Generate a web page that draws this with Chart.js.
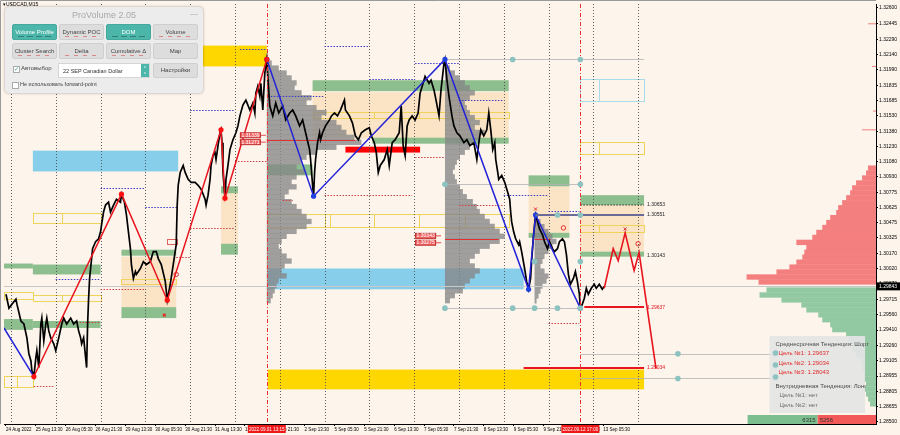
<!DOCTYPE html>
<html><head><meta charset="utf-8">
<script src="https://cdn.jsdelivr.net/npm/chart.js@4.4.1/dist/chart.umd.min.js"></script>
<style>
html,body{margin:0;padding:0;background:#FDF4EC;}
#wrap{position:relative;width:900px;height:435px;overflow:hidden;font-family:'Liberation Sans',Arial,sans-serif;}
canvas{display:block;}
#sym{position:absolute;left:3px;top:1px;font-size:5px;color:#000;}
#pv{position:absolute;left:5px;top:7px;width:198px;height:86px;background:#ececec;border-radius:4px;box-shadow:0 0 3px rgba(0,0,0,.35);color:#444;}
.ttl{position:absolute;left:0;right:0;top:3px;text-align:center;font-size:9px;color:#a9a9a9;}
.min{position:absolute;right:5px;top:2px;font-size:8px;color:#aaa;}
.btn{position:absolute;width:45px;height:16px;box-sizing:border-box;border-radius:2px;font-size:6px;line-height:14px;text-align:center;background:#dddddd;border:1px solid #cfcfcf;color:#444;white-space:nowrap;}
.btn.on{background:#4db6aa;border-color:#45a89c;color:#fff;}
.ind{position:absolute;left:5px;right:5px;bottom:2px;height:1px;background:repeating-linear-gradient(90deg,#d88 0 4px,transparent 4px 9px);}
.on .ind{background:repeating-linear-gradient(90deg,#2f7f76 0 6px,transparent 6px 9px);}
.chk{position:absolute;width:5px;height:5px;background:#fff;border:1px solid #aaa;font-size:6px;line-height:5px;color:#2aa198;text-align:center;}
.lbl{position:absolute;font-size:5.5px;color:#444;white-space:nowrap;}
.sel{position:absolute;width:92px;height:15px;box-sizing:border-box;background:#fff;border:1px solid #d6d6d6;font-size:5.5px;line-height:14px;padding-left:4px;color:#333;}
.spin{position:absolute;right:0;top:0;width:8px;height:13px;background:#4db6aa;color:#fff;font-size:4px;line-height:6px;text-align:center;}
</style></head><body>
<div id="wrap">
<canvas id="c" width="900" height="435"></canvas>
<div id="sym">▾USDCAD,M15</div>
<div id="pv">
  <div class="ttl">ProVolume 2.05</div>
  <div class="min">—</div>
  <div class="btn on" style="left:7px;top:17px">Volume Profile<i class="ind"></i></div>
  <div class="btn" style="left:54px;top:17px">Dynamic POC<i class="ind"></i></div>
  <div class="btn on" style="left:101px;top:17px">DOM<i class="ind"></i></div>
  <div class="btn" style="left:148px;top:17px">Volume<i class="ind"></i></div>
  <div class="btn" style="left:7px;top:36px">Cluster Search<i class="ind"></i></div>
  <div class="btn" style="left:54px;top:36px">Delta<i class="ind"></i></div>
  <div class="btn" style="left:101px;top:36px">Cumulative Δ<i class="ind"></i></div>
  <div class="btn" style="left:148px;top:36px">Map</div>
  <div class="chk" style="left:8px;top:59px">✓</div><div class="lbl" style="left:16px;top:58px;font-size:6px">Автовыбор</div>
  <div class="sel" style="left:53px;top:56px">22 SEP Canadian Dollar<div class="spin">˄<br>˅</div></div>
  <div class="btn" style="left:148px;top:56px;height:15px;line-height:13px">Настройки</div>
  <div class="chk" style="left:7px;top:75px"></div><div class="lbl" style="left:15px;top:74px">Не использовать forward-point</div>
</div>
</div>
<script>
// ---------------- data ----------------
const priceTicks = [1.32600,1.32445,1.32290,1.32140,1.31990,1.31835,1.31685,1.31530,1.31380,1.31230,1.31080,1.30930,1.30775,1.30625,1.30475,1.30325,1.30170,1.30020,1.29870,1.29715,1.29560,1.29410,1.29260,1.29105,1.28955,1.28805,1.28655,1.28500];
const xTickPos = [0,30,60,90,120,150,180,210,240,270,300,330,360,390,420,450,480,510,540,570,600];
const xTickLabels = ['24 Aug 2022','25 Aug 13:30','26 Aug 05:30','26 Aug 21:30','29 Aug 13:30','30 Aug 05:30','30 Aug 21:30','31 Aug 13:30','1 Sep 05:30','1 Sep 21:30','2 Sep 13:30','5 Sep 05:30','5 Sep 21:30','6 Sep 13:30','7 Sep 05:30','7 Sep 21:30','8 Sep 13:30','9 Sep 05:30','9 Sep 21:30','12 Sep 13:30','13 Sep 05:30'];
const dayBreaks = [5,50,95,140,185,230,275,320,365,410,455,500,545,590,635];
const sessionMarks = [[262,'2022.09.01 13:15'],[577,'2022.09.12 17:00']];
const lastPrice = 1.29843;

const closeSeries = [[0,1.29765],[3,1.29627],[6,1.29667],[10,1.29716],[11,1.29667],[15,1.29500],[18,1.29470],[21,1.29333],[23,1.29176],[25,1.29107],[26,1.29009],[28,1.28950],[30,1.29137],[31,1.29206],[33,1.29039],[35,1.29470],[36,1.29529],[38,1.29304],[40,1.29470],[41,1.29529],[43,1.29402],[45,1.29333],[48,1.29274],[50,1.29206],[53,1.29333],[56,1.29470],[58,1.29529],[61,1.29470],[65,1.29529],[68,1.29470],[71,1.29500],[73,1.29402],[75,1.29333],[76,1.29274],[78,1.29333],[80,1.29137],[81,1.29039],[82,1.29470],[83,1.29726],[84,1.29922],[85,1.30020],[87,1.30216],[90,1.30285],[93,1.30314],[95,1.30383],[96,1.30451],[98,1.30579],[100,1.30648],[103,1.30677],[105,1.30579],[108,1.30648],[111,1.30706],[115,1.30677],[116,1.30756],[119,1.30677],[121,1.30550],[123,1.30383],[125,1.30216],[126,1.30059],[128,1.29922],[130,1.29990],[131,1.29961],[135,1.30020],[138,1.30088],[141,1.30059],[145,1.30088],[148,1.30187],[151,1.30187],[153,1.30118],[156,1.30059],[160,1.29892],[162,1.29706],[165,1.29863],[168,1.30059],[171,1.30255],[172,1.30648],[173,1.30844],[175,1.30971],[178,1.31040],[180,1.30971],[183,1.30903],[186,1.30873],[190,1.30873],[193,1.30844],[196,1.30805],[200,1.30706],[201,1.30648],[203,1.30746],[205,1.30903],[206,1.31040],[208,1.31138],[210,1.31168],[211,1.31099],[213,1.31236],[215,1.31364],[216,1.31393],[217,1.31266],[218,1.30971],[220,1.30716],[221,1.30903],[223,1.31040],[225,1.31197],[228,1.31295],[231,1.31364],[233,1.31432],[235,1.31531],[238,1.31638],[241,1.31687],[245,1.31589],[248,1.31658],[250,1.31560],[251,1.31756],[253,1.31825],[255,1.31727],[256,1.31854],[258,1.31589],[260,1.31952],[262,1.32090],[263,1.31923],[265,1.31629],[268,1.31531],[271,1.31658],[274,1.31560],[278,1.31629],[281,1.31491],[285,1.31560],[288,1.31589],[291,1.31531],[295,1.31432],[298,1.31491],[301,1.31364],[305,1.31197],[306,1.31099],[308,1.30844],[309,1.30736],[310,1.30971],[311,1.31099],[313,1.31266],[315,1.31364],[316,1.31295],[318,1.31364],[321,1.31432],[325,1.31491],[327,1.31531],[330,1.31560],[333,1.31531],[336,1.31589],[340,1.31687],[341,1.31589],[345,1.31531],[348,1.31462],[351,1.31334],[354,1.31295],[357,1.31364],[361,1.31393],[365,1.31413],[367,1.31334],[370,1.31266],[372,1.31168],[374,1.30971],[376,1.31040],[380,1.31099],[383,1.31197],[385,1.31040],[388,1.31266],[391,1.31295],[395,1.31364],[397,1.31629],[399,1.31236],[401,1.31138],[403,1.31432],[405,1.31491],[408,1.31531],[411,1.31491],[414,1.31560],[416,1.31756],[419,1.31854],[421,1.31923],[425,1.31854],[427,1.31884],[430,1.31786],[432,1.31687],[435,1.31531],[437,1.31786],[440,1.32050],[441,1.32090],[443,1.31884],[445,1.31727],[448,1.31531],[450,1.31432],[453,1.31364],[456,1.31334],[460,1.31266],[463,1.31295],[466,1.31236],[470,1.31266],[473,1.31099],[475,1.31266],[477,1.31393],[480,1.31334],[483,1.31393],[485,1.31560],[487,1.31393],[489,1.31197],[491,1.31266],[492,1.31099],[494,1.30971],[495,1.30903],[498,1.30942],[501,1.30873],[504,1.30775],[506,1.30706],[507,1.30579],[508,1.30481],[510,1.30383],[512,1.30314],[515,1.30255],[516,1.30285],[518,1.30187],[521,1.30020],[523,1.29892],[525,1.29814],[527,1.29922],[528,1.30088],[530,1.30353],[532,1.30550],[534,1.30481],[536,1.30412],[539,1.30353],[541,1.30285],[544,1.30216],[546,1.30285],[549,1.30216],[551,1.30187],[554,1.30216],[556,1.30285],[559,1.30314],[561,1.30285],[563,1.30157],[565,1.29961],[567,1.29863],[570,1.29922],[572,1.29990],[574,1.29892],[576,1.29765],[577,1.29627],[579,1.29667],[581,1.29726],[583,1.29824],[585,1.29765],[588,1.29824],[591,1.29863],[593,1.29824],[596,1.29863],[599,1.29814],[601,1.29843]];

const redSwings = [[28,1.28950],[116,1.30756],[162,1.29706],[216,1.31393],[220,1.30716],[262,1.32090]];
const blueSwingsEarly = [[-2,1.29431],[28,1.28950]];
const blueSwings = [[262,1.32090],[309,1.30736],[441,1.32090],[525,1.29814],[532,1.30550],[577,1.29627]];
const forecastPath = [[601,1.29824],[610,1.30216],[615,1.30098],[622,1.30373],[631,1.30000],[636,1.30177],[653,1.29029]];

// zones: [fromBar, toBar, upperPrice, lowerPrice]
const goldZones = [[143,262,1.32227,1.32021],[263,641,1.29019,1.28823]];
const blueZones = [[27,173,1.31187,1.30981],[263,520,1.30020,1.29814]];
const rangeZones = [[116,171,1.30137,1.29637],[216,233,1.30775,1.30265],[308,505,1.31766,1.31305],[525,566,1.30834,1.30373],[577,641,1.30648,1.30187]];
const greenZones = [[-2,27,1.30069,1.30020],[27,95,1.30059,1.29961],[-2,27,1.29519,1.29412],[27,95,1.29500,1.29431],[116,171,1.30206,1.30147],[116,171,1.29637,1.29529],[216,233,1.30834,1.30765],[216,233,1.30265,1.30157],[308,505,1.31884,1.31776],[368,505,1.31315,1.31256],[263,308,1.31050,1.30942],[525,566,1.30942,1.30834],[525,566,1.30373,1.30324],[577,641,1.30746,1.30648],[577,641,1.30187,1.30137]];
const redZones = [[341,416,1.31226,1.31168]];
// outlined boxes: [fromBar, toBar, upper, lower, dividers]
const yellowBoxes = [[27,95,1.30569,1.30471,[56]],[-2,27,1.29784,1.29716,[]],[27,95,1.29755,1.29696,[56]],[-2,27,1.28960,1.28843,[11]],[116,171,1.29912,1.29863,[]],[263,505,1.30559,1.30432,[320,325,370,415,461]],[308,505,1.31570,1.31511,[370,415]],[577,641,1.30451,1.30383,[596]],[577,641,1.31275,1.31158,[596]]];
const cyanBoxes = [[577,641,1.31893,1.31678,[596]]];
const redSmallBoxes = [[162,172,1.30314,1.30265]];

// levels: [fromBar, toBar, price]
const targetLines = [[581,641,1.29637],[520,641,1.29034]];
const entryLines = [[532,641,1.30551]];
const stopDotted = [[577,641,1.30653]];
const pocLines = [[262,351,1.31295],[441,495,1.30314],[531,547,1.30314]];
const blueDotted = [[95,140,1.30814],[50,95,1.29912],[140,173,1.30628],[185,230,1.31589],[235,263,1.32198],[263,320,1.31727],[320,365,1.32227],[365,411,1.31893],[411,455,1.32050],[455,500,1.31687],[500,545,1.30746],[545,576,1.30589]];
const redDotted = [[28,48,1.28852],[95,140,1.29814],[71,95,1.29490],[171,185,1.30137],[185,230,1.30422],[230,263,1.31089],[278,288,1.30697],[320,408,1.30746],[411,441,1.31128],[455,500,1.30648],[545,576,1.29480]];
const pointLines = [[441,641,1.32090],[441,577,1.29627],[441,577,1.30854],[577,773,1.29176],[577,773,1.28931]];
const pointDots = [[509,1.32090],[577,1.32090],[441,1.29627],[509,1.29627],[531,1.29627],[554,1.29627],[577,1.29627],[441,1.30854],[577,1.30854],[531,1.30088],[577,1.30088],[554,1.30550],[577,1.30550],[675,1.29176],[773,1.29176],[675,1.28931],[773,1.28931],[773,1.29058]];
const levelLabelsDark = [[641,1.30653,'1.30653'],[641,1.30551,'1.30551'],[641,1.30143,'1.30143']];
const levelLabelsRed = [[643,1.29637,'1.29637'],[643,1.29034,'1.29034']];
const boxedLabels = [[235,1.31339,'1.31339'],[235,1.31271,'1.31271'],[411,1.30343,'1.30343'],[411,1.30275,'1.30275']];
const crossMarks = [[622,1.30412],[532,1.30609]];
const ringMarks = [[171,1.29961],[560,1.30422],[635,1.30265]];
const squareMarks = [[159,1.29558]];

// volume profiles: anchor bar, top price, volumes per bin (top to bottom)
const binStep = 0.00049;
const profile1 = {anchor:262, top:1.32080, vols:[5,12,20,25,30,28,35,45,40,50,60,55,70,75,80,88,95,70,50,40,35,30,38,30,25,30,22,18,25,30,35,40,45,40,30,20,15,12,15,20,25,18,15,20,12,10,8,6,4]};
const profile2 = {anchor:441, top:1.32031, vols:[5,10,15,20,25,30,25,20,22,25,30,35,30,40,35,30,25,20,15,12,10,8,10,12,15,18,22,28,32,35,40,45,50,55,60,55,45,35,30,25,30,35,30,25,20,18,10,5]};
const profile3 = {anchor:531, top:1.30559, vols:[3,6,10,14,18,22,18,14,10,8,6,10,14,12,8,6,4,2]};
// order book depth (right side)
const askTop = 1.31040;
const askVols = [8,10,14,20,24,26,30,34,38,40,46,50,54,60,64,80,70,72,74,80,87,100,130,118];
const bidTop = 1.29833;
const bidVols = [110,117,95,75,70,58,54,46,44,30,27,26,24,20,16,14,14,12,12,10,12,10,8,6];
const askTicks = [[1.32443,8],[1.32021,4],[1.31579,3],[1.31393,14]];
const bidTotal = 6315, askTotal = 5256;

const infoLines = [
  ['Среднесрочная Тенденция: Шорт','head'],
  ['Цель №1: 1.29637','red'],
  ['Цель №2: 1.29034','red'],
  ['Цель №3: 1.28043','red'],
  ['Внутридневная Тенденция: Лонг','head'],
  ['Цель №1: нет','grey'],
  ['Цель №2: нет','grey']
];

// ---------------- drawing ----------------
const BG = '#FDF4EC';
Chart.defaults.font.family = "'Liberation Sans', Arial, sans-serif";
const pts = a => a.map(([x,y]) => ({x, y}));

const mt4Plugin = {
  id: 'mt4',
  beforeDraw(chart) {
    const c = chart.ctx; c.save(); c.fillStyle = BG; c.fillRect(0,0,chart.width,chart.height); c.restore();
  },
  beforeDatasetsDraw(chart) {
    const c = chart.ctx, a = chart.chartArea, xs = chart.scales.x, ys = chart.scales.y;
    const X = v => xs.getPixelForValue(v), Y = v => ys.getPixelForValue(v);
    c.save();
    c.beginPath(); c.rect(a.left, a.top, a.right - a.left, a.bottom - a.top); c.clip();
    const box = (z, fill) => { c.fillStyle = fill; c.fillRect(X(z[0]), Y(z[2]), X(z[1]) - X(z[0]), Y(z[3]) - Y(z[2])); };
    rangeZones.forEach(z => box(z, '#FBE4C6'));
    goldZones.forEach(z => box(z, '#FFD700'));
    blueZones.forEach(z => box(z, '#87CEEB'));
    greenZones.forEach(z => box(z, '#8DBE8D'));
    redZones.forEach(z => box(z, '#FF0000'));
    const obox = (z, col) => {
      c.strokeStyle = col; c.lineWidth = 1; c.setLineDash([]);
      const x0 = Math.round(X(z[0])) + .5, x1 = Math.round(X(z[1])) + .5, y0 = Math.round(Y(z[2])) + .5, y1 = Math.round(Y(z[3])) + .5;
      c.strokeRect(x0, y0, x1 - x0, y1 - y0);
      (z[4] || []).forEach(d => { const xd = Math.round(X(d)) + .5; c.beginPath(); c.moveTo(xd, y0); c.lineTo(xd, y1); c.stroke(); });
    };
    yellowBoxes.forEach(z => obox(z, '#F0D35A'));
    cyanBoxes.forEach(z => obox(z, '#A9DCEB'));
    redSmallBoxes.forEach(z => obox(z, '#E06060'));
    // daily separators
    c.strokeStyle = 'rgba(70,70,70,0.85)'; c.lineWidth = 1; c.setLineDash([1,2]);
    dayBreaks.forEach(d => { const x = Math.round(X(d)) + .5; c.beginPath(); c.moveTo(x, a.top); c.lineTo(x, a.bottom); c.stroke(); });
    c.setLineDash([]);
    // volume profiles
    const prof = (p) => {
      c.fillStyle = 'rgba(135,135,135,0.78)';
      p.vols.forEach((v, k) => {
        const y0 = Y(p.top - k * binStep), y1 = Y(p.top - (k + 1) * binStep);
        c.fillRect(X(p.anchor), y0, X(p.anchor + v) - X(p.anchor), y1 - y0 + 0.4);
      });
    };
    [profile1, profile2, profile3].forEach(prof);
    // order book depth on the right
    const right = xs.max;
    c.fillStyle = '#F47F7F';
    askVols.forEach((v, k) => { const y0 = Y(askTop - k * binStep), y1 = Y(askTop - (k + 1) * binStep); c.fillRect(X(right - v), y0, X(right) - X(right - v), y1 - y0 + 0.4); });
    askTicks.forEach(([p, v]) => { c.fillRect(X(right - v), Y(p) - 0.5, X(right) - X(right - v), 1); });
    c.fillStyle = '#93C9A2';
    bidVols.forEach((v, k) => { const y0 = Y(bidTop - k * binStep), y1 = Y(bidTop - (k + 1) * binStep); c.fillRect(X(right - v), y0, X(right) - X(right - v), y1 - y0 + 0.4); });
    // last price line
    c.strokeStyle = '#C8C8C8'; c.lineWidth = 1;
    const yl = Math.round(Y(lastPrice)) + .5; c.beginPath(); c.moveTo(a.left, yl); c.lineTo(a.right, yl); c.stroke();
    // horizontal levels
    const hl = (arr, col, w, dash) => {
      c.strokeStyle = col; c.lineWidth = w; c.setLineDash(dash);
      arr.forEach(([i0, i1, p]) => { const y = Math.round(Y(p)) + (w % 2 ? .5 : 0); c.beginPath(); c.moveTo(X(i0), y); c.lineTo(X(i1), y); c.stroke(); });
      c.setLineDash([]);
    };
    hl(pointLines, 'rgba(180,180,180,0.8)', 1, []);
    hl(blueDotted, '#3B3BC8', 1, [1.5,1.5]);
    hl(redDotted, '#D04040', 1, [1.5,1.5]);
    hl(pocLines, '#E03030', 1, []);
    c.restore();
  },
  afterDatasetsDraw(chart) {
    const c = chart.ctx, a = chart.chartArea, xs = chart.scales.x, ys = chart.scales.y;
    const X = v => xs.getPixelForValue(v), Y = v => ys.getPixelForValue(v);
    c.save();
    c.beginPath(); c.rect(a.left, a.top, a.right - a.left, a.bottom - a.top); c.clip();
    const hl = (arr, col, w, dash) => {
      c.strokeStyle = col; c.lineWidth = w; c.setLineDash(dash);
      arr.forEach(([i0, i1, p]) => { const y = Math.round(Y(p)); c.beginPath(); c.moveTo(X(i0), y); c.lineTo(X(i1), y); c.stroke(); });
      c.setLineDash([]);
    };
    hl(targetLines, '#E8141E', 2, []);
    hl(entryLines, '#6B6B9A', 2, []);
    hl(stopDotted, '#333', 1, [1.5,1.5]);
    // session marks (vertical red dash-dot)
    c.strokeStyle = '#F03030'; c.lineWidth = 1; c.setLineDash([4,2,1,2]);
    sessionMarks.forEach(([i]) => { const x = Math.round(X(i)) + .5; c.beginPath(); c.moveTo(x, a.top); c.lineTo(x, a.bottom); c.stroke(); });
    c.setLineDash([]);
    // forward point dots
    c.fillStyle = '#8CC3C0';
    pointDots.forEach(([i, p]) => { c.beginPath(); c.arc(X(i), Y(p), 2.8, 0, Math.PI * 2); c.fill(); });
    // marks
    c.strokeStyle = '#E03030'; c.fillStyle = '#E03030'; c.lineWidth = 1;
    crossMarks.forEach(([i, p]) => { const x = X(i), y = Y(p); c.beginPath(); c.moveTo(x - 1.5, y - 1.5); c.lineTo(x + 1.5, y + 1.5); c.moveTo(x + 1.5, y - 1.5); c.lineTo(x - 1.5, y + 1.5); c.stroke(); });
    ringMarks.forEach(([i, p]) => { c.beginPath(); c.arc(X(i), Y(p), 2.2, 0, Math.PI * 2); c.stroke(); });
    squareMarks.forEach(([i, p]) => { c.fillRect(X(i) - 1.5, Y(p) - 1.5, 3, 3); });
    // level labels
    c.font = "5px 'Liberation Sans'"; c.textBaseline = 'middle'; c.textAlign = 'left';
    c.fillStyle = '#222'; levelLabelsDark.forEach(([i, p, t]) => c.fillText(t, X(i) + 3, Y(p)));
    c.fillStyle = '#E8141E'; levelLabelsRed.forEach(([i, p, t]) => c.fillText(t, X(i) + 1, Y(p)));
    boxedLabels.forEach(([i, p, t]) => {
      const x = X(i), y = Y(p);
      c.fillStyle = '#F26A6A'; c.fillRect(x, y - 2.5, 21, 5);
      c.strokeStyle = '#C03030'; c.strokeRect(x + .5, y - 2.5, 20, 5);
      c.fillStyle = '#fff'; c.fillText(t, x + 1.5, y + .2);
      c.strokeStyle = '#E05050'; c.beginPath(); c.moveTo(x + 21, y); c.lineTo(x + 26, y); c.stroke();
    });
    // info panel
    const ix0 = X(767), ix1 = X(863), iy0 = 336, iy1 = 413;
    c.fillStyle = 'rgba(228,228,228,0.93)'; c.fillRect(ix0, iy0, ix1 - ix0, iy1 - iy0);
    c.font = "6px 'Liberation Sans'";
    const rowY = [344, 353, 363, 372, 386, 395, 405];
    infoLines.forEach(([t, kind], k) => {
      c.fillStyle = kind === 'red' ? '#E02A2A' : kind === 'head' ? '#4a4a4a' : '#6e6e6e';
      c.fillText(t, ix0 + (kind === 'head' ? 6 : kind === 'red' ? 9 : 10), rowY[k]);
    });
    c.fillStyle = '#8CC3C0';
    [[353],[365],[377]].forEach(([yy]) => { c.beginPath(); c.arc(ix0 + 6, yy, 2.8, 0, Math.PI * 2); c.fill(); });
    // bid / ask totals bar
    const bx0 = X(745), bx1 = X(xs.max), by0 = 415, by1 = a.bottom;
    const split = bx0 + (bx1 - bx0) * bidTotal / (bidTotal + askTotal);
    c.fillStyle = '#7DBE8E'; c.fillRect(bx0, by0, split - bx0, by1 - by0);
    c.fillStyle = '#F25A5A'; c.fillRect(split, by0, bx1 - split, by1 - by0);
    c.fillStyle = '#333'; c.font = "6px 'Liberation Sans'";
    c.textAlign = 'right'; c.fillText(String(bidTotal), split - 2, (by0 + by1) / 2 + .5);
    c.textAlign = 'left'; c.fillText(String(askTotal), split + 2, (by0 + by1) / 2 + .5);
    c.restore();
  },
  afterDraw(chart) {
    const c = chart.ctx, a = chart.chartArea, xs = chart.scales.x, ys = chart.scales.y;
    const X = v => xs.getPixelForValue(v), Y = v => ys.getPixelForValue(v);
    c.save();
    // window border
    c.strokeStyle = '#9a9a9a'; c.lineWidth = 1;
    c.beginPath(); c.moveTo(0.5, a.bottom); c.lineTo(0.5, 0.5); c.lineTo(a.right, 0.5); c.stroke();
    // session time boxes
    c.font = "4.6px 'Liberation Sans'"; c.textBaseline = 'middle'; c.textAlign = 'center';
    sessionMarks.forEach(([i, t]) => {
      const x = X(i);
      c.fillStyle = '#F01818'; c.fillRect(x - 19, a.bottom + 1, 38, 8);
      c.fillStyle = '#fff'; c.fillText(t, x, a.bottom + 5.3);
    });
    // last price box
    const y = Y(lastPrice);
    c.font = "5px 'Liberation Sans'";
    c.fillStyle = '#000'; c.fillRect(a.right + 1, y - 4, chart.width - a.right - 1, 8);
    c.fillStyle = '#fff'; c.textAlign = 'left'; c.fillText(lastPrice.toFixed(5), a.right + 3, y + .3);
    c.restore();
  }
};

new Chart(document.getElementById('c'), {
  type: 'line',
  data: {
    datasets: [
      {label: 'Forecast', data: pts(forecastPath), borderColor: '#E8141E', borderWidth: 1.6, pointRadius: 0, order: 1},
      {label: 'Swings up', data: pts(redSwings), borderColor: '#E8141E', borderWidth: 1.5, pointRadius: 2.6, pointBackgroundColor: '#FF1010', pointBorderWidth: 0, order: 1},
      {label: 'Swings down', data: pts(blueSwings), borderColor: '#2323D8', borderWidth: 1.5, pointRadius: 2.6, pointBackgroundColor: '#2040E0', pointBorderWidth: 0, order: 2},
      {label: 'Swings early', data: pts(blueSwingsEarly), borderColor: '#2323D8', borderWidth: 1.5, pointRadius: 0, order: 2},
      {label: 'USDCAD', data: pts(closeSeries), borderColor: '#000', borderWidth: 1.7, pointRadius: 0, order: 5}
    ]
  },
  options: {
    responsive: false, animation: false, maintainAspectRatio: false,
    layout: {padding: 0},
    plugins: {legend: {display: false}, tooltip: {enabled: false}},
    elements: {line: {tension: 0}},
    scales: {
      x: {
        type: 'linear', min: -2, max: 874,
        afterBuildTicks: s => { s.ticks = xTickPos.map(v => ({value: v})); },
        afterFit: s => { s.height = 11; },
        grid: {drawOnChartArea: false, drawTicks: true, tickLength: 2, color: '#000'},
        border: {display: true, color: '#000', width: 1},
        ticks: {font: {size: 4.5}, color: '#000', padding: 1.5, autoSkip: false, maxRotation: 0, minRotation: 0, align: 'start', callback: (v, i) => xTickLabels[i]}
      },
      y: {
        position: 'right', min: 1.28480, max: 1.32639,
        afterBuildTicks: s => { s.ticks = priceTicks.map(v => ({value: v})); },
        afterFit: s => { s.width = 24; },
        grid: {drawOnChartArea: false, drawTicks: true, tickLength: 2, color: '#000'},
        border: {display: true, color: '#000', width: 1},
        ticks: {font: {size: 5}, color: '#000', padding: 1, autoSkip: false, callback: v => v.toFixed(5)}
      }
    }
  },
  plugins: [mt4Plugin]
});
</script>
</body></html>
